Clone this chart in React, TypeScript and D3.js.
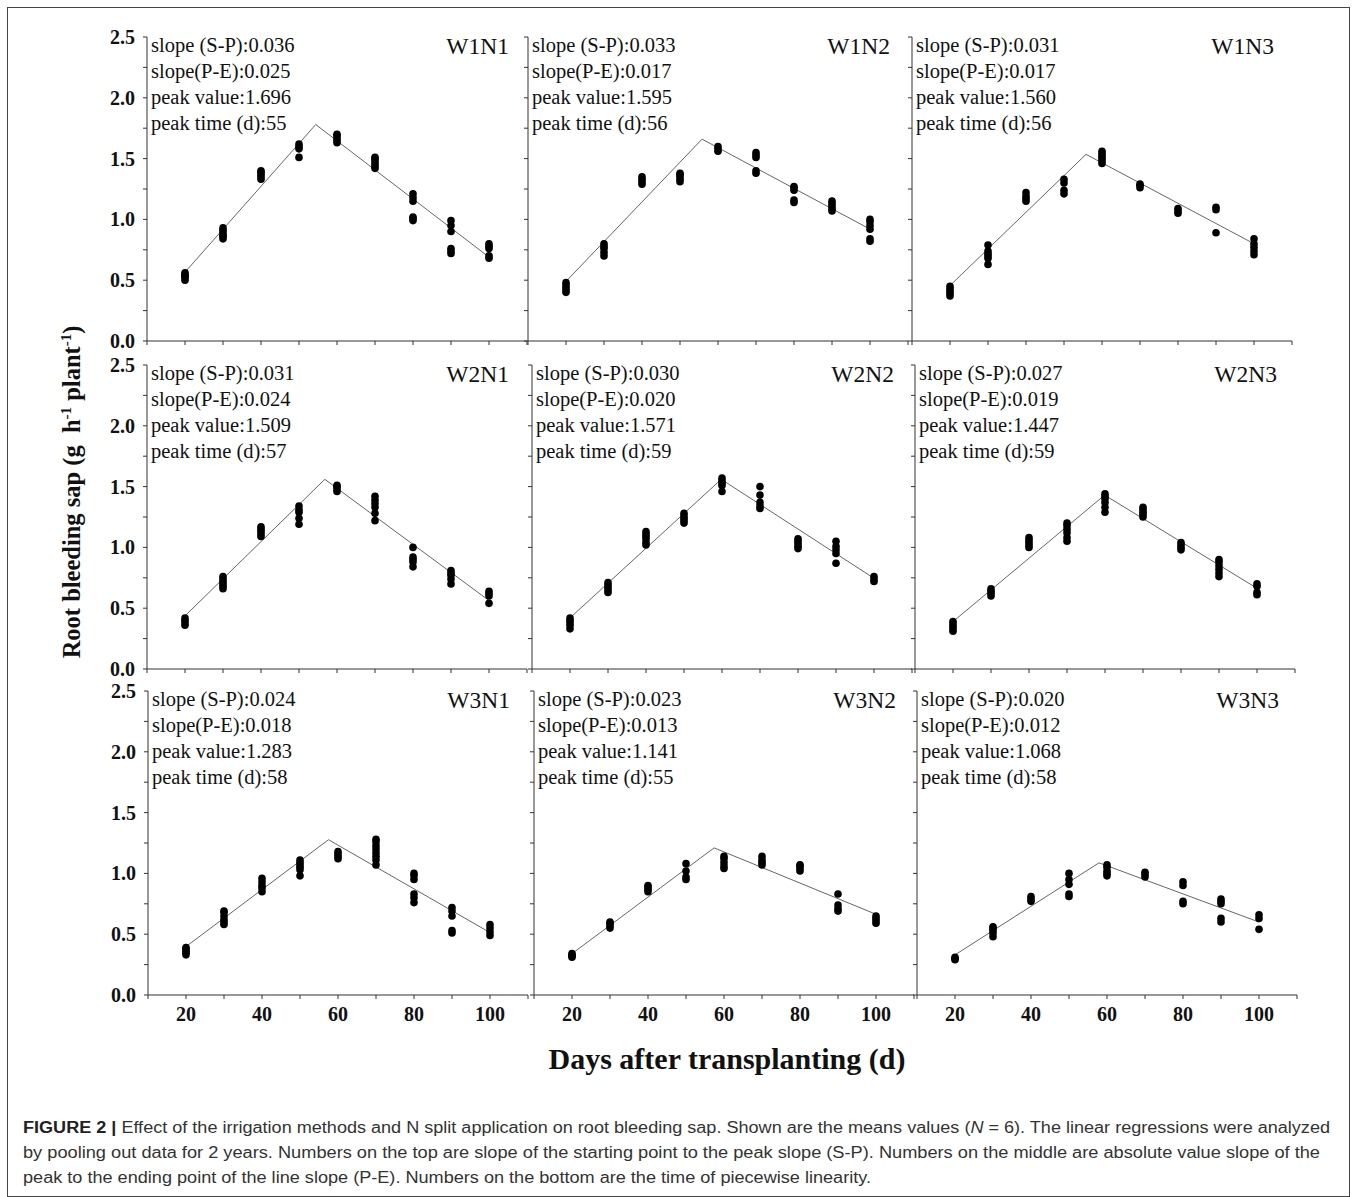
import * as d3 from "d3"
import React from "react"

// sampling days (x values of every dot column)
const days = [20, 30, 40, 50, 60, 70, 80, 90, 100]
const xTicks = [20, 40, 60, 80, 100]
const xMinor = [10, 30, 50, 70, 90, 110]
const yTicks = [0, 0.5, 1.0, 1.5, 2.0, 2.5]
const yMinor = [0.25, 0.75, 1.25, 1.75, 2.25]

const panelNames = ["W1N1", "W1N2", "W1N3", "W2N1", "W2N2", "W2N3", "W3N1", "W3N2", "W3N3"]
const slopeSP = ["0.036", "0.033", "0.031", "0.031", "0.030", "0.027", "0.024", "0.023", "0.020"]
const slopePE = ["0.025", "0.017", "0.017", "0.024", "0.020", "0.019", "0.018", "0.013", "0.012"]
const peakValue = ["1.696", "1.595", "1.560", "1.509", "1.571", "1.447", "1.283", "1.141", "1.068"]
const peakTime = ["55", "56", "56", "57", "59", "59", "58", "55", "58"]

// piecewise fit: value at day 20, break point (day, value), value at day 100
const fitStart = [0.566, 0.49, 0.456, 0.437, 0.42, 0.39, 0.398, 0.34, 0.33]
const fitPeakDay = [54.4, 55.8, 55.8, 56.8, 59.8, 59.9, 57.5, 57.4, 57.9]
const fitPeakVal = [1.78, 1.66, 1.535, 1.56, 1.56, 1.43, 1.277, 1.21, 1.087]
const fitEnd = [0.69, 0.92, 0.8, 0.563, 0.746, 0.664, 0.513, 0.664, 0.6]

// observed values, one list per sampling day
const w1n1 = [
  [0.5, 0.52, 0.53, 0.54, 0.55, 0.56],
  [0.84, 0.86, 0.87, 0.89, 0.91, 0.93],
  [1.33, 1.35, 1.37, 1.39, 1.4],
  [1.51, 1.58, 1.6, 1.62],
  [1.63, 1.65, 1.67, 1.69, 1.7],
  [1.42, 1.44, 1.46, 1.48, 1.5, 1.51],
  [0.99, 1.01, 1.02, 1.15, 1.18, 1.21],
  [0.72, 0.74, 0.76, 0.9, 0.95, 0.99],
  [0.68, 0.7, 0.76, 0.78, 0.8],
]
const w1n2 = [
  [0.4, 0.42, 0.44, 0.46, 0.48],
  [0.7, 0.73, 0.76, 0.78, 0.8],
  [1.29, 1.31, 1.33, 1.35],
  [1.31, 1.33, 1.35, 1.37, 1.38],
  [1.56, 1.58, 1.6],
  [1.38, 1.4, 1.51, 1.53, 1.55],
  [1.14, 1.16, 1.24, 1.26, 1.27],
  [1.07, 1.09, 1.11, 1.13, 1.15],
  [0.82, 0.84, 0.92, 0.95, 0.98, 1.0],
]
const w1n3 = [
  [0.37, 0.39, 0.41, 0.43, 0.45],
  [0.63, 0.68, 0.7, 0.72, 0.74, 0.79],
  [1.15, 1.17, 1.19, 1.22],
  [1.21, 1.24, 1.3, 1.33],
  [1.46, 1.48, 1.5, 1.52, 1.54, 1.56],
  [1.26, 1.28, 1.29],
  [1.05, 1.07, 1.09],
  [0.89, 1.08, 1.1],
  [0.71, 0.74, 0.77, 0.8, 0.84],
]
const w2n1 = [
  [0.36, 0.38, 0.4, 0.42],
  [0.66, 0.68, 0.7, 0.72, 0.74, 0.76],
  [1.09, 1.11, 1.13, 1.15, 1.17],
  [1.19, 1.24, 1.29, 1.31, 1.34],
  [1.46, 1.48, 1.5, 1.51],
  [1.22, 1.28, 1.33, 1.36, 1.39, 1.42],
  [0.84, 0.88, 0.9, 0.92, 1.0],
  [0.7, 0.74, 0.77, 0.79, 0.81],
  [0.54, 0.6, 0.62, 0.64],
]
const w2n2 = [
  [0.33, 0.36, 0.38, 0.4, 0.42],
  [0.63, 0.65, 0.67, 0.69, 0.71],
  [1.02, 1.04, 1.07, 1.09, 1.11, 1.13],
  [1.2, 1.22, 1.24, 1.26, 1.28],
  [1.46, 1.51, 1.53, 1.55, 1.57],
  [1.32, 1.34, 1.37, 1.43, 1.5],
  [0.99, 1.01, 1.03, 1.05, 1.07],
  [0.87, 0.95, 0.98, 1.01, 1.05],
  [0.72, 0.74, 0.76],
]
const w2n3 = [
  [0.31, 0.33, 0.35, 0.37, 0.39],
  [0.6, 0.62, 0.64, 0.66],
  [1.0, 1.02, 1.04, 1.06, 1.08],
  [1.05, 1.08, 1.12, 1.15, 1.18, 1.2],
  [1.29, 1.33, 1.37, 1.4, 1.42, 1.44],
  [1.25, 1.27, 1.29, 1.31, 1.33],
  [0.98, 1.0, 1.02, 1.04],
  [0.76, 0.79, 0.82, 0.85, 0.88, 0.9],
  [0.61, 0.63, 0.68, 0.7],
]
const w3n1 = [
  [0.33, 0.35, 0.36, 0.38, 0.39],
  [0.58, 0.6, 0.62, 0.65, 0.68, 0.69],
  [0.85, 0.88, 0.9, 0.93, 0.96],
  [0.98, 1.03, 1.05, 1.07, 1.09, 1.11],
  [1.12, 1.14, 1.16, 1.18],
  [1.07, 1.11, 1.14, 1.17, 1.2, 1.23, 1.26, 1.28],
  [0.76, 0.8, 0.83, 0.95, 0.98, 1.0],
  [0.51, 0.53, 0.65, 0.69, 0.72],
  [0.49, 0.52, 0.55, 0.58],
]
const w3n2 = [
  [0.31, 0.32, 0.33, 0.34],
  [0.55, 0.57, 0.59, 0.6],
  [0.85, 0.87, 0.89, 0.9],
  [0.95, 0.97, 1.02, 1.08],
  [1.04, 1.06, 1.09, 1.12, 1.14],
  [1.07, 1.09, 1.11, 1.14],
  [1.02, 1.04, 1.06, 1.07],
  [0.69, 0.71, 0.74, 0.83],
  [0.59, 0.61, 0.63, 0.65],
]
const w3n3 = [
  [0.29, 0.3, 0.31],
  [0.48, 0.51, 0.53, 0.55, 0.56],
  [0.77, 0.79, 0.81],
  [0.81, 0.83, 0.91, 0.95, 1.0],
  [0.98, 1.0, 1.02, 1.05, 1.07],
  [0.97, 0.99, 1.01],
  [0.75, 0.77, 0.9, 0.93],
  [0.6, 0.63, 0.75, 0.77, 0.79],
  [0.54, 0.63, 0.66],
]
const observed = [w1n1, w1n2, w1n3, w2n1, w2n2, w2n3, w3n1, w3n2, w3n3]

// layout
const W = 1357
const H = 1197
const rowTop = [37, 365, 691]
const colLeft = [
  [147, 528, 912],
  [147, 532, 915],
  [148, 534, 917],
]
const plotW = 380
const plotH = 304
const serif = "'Liberation Serif', 'Times New Roman', serif"
const sans = "'Liberation Sans', Arial, sans-serif"

const Panel = ({ i }) => {
  const row = Math.floor(i / 3)
  const col = i % 3
  const left = colLeft[row][col]
  const top = rowTop[row]
  const x = d3.scaleLinear().domain([10, 110]).range([left, left + plotW])
  const y = d3.scaleLinear().domain([0, 2.5]).range([top + plotH, top])
  const bottom = top + plotH

  const fit = [
    [20, fitStart[i]],
    [fitPeakDay[i], fitPeakVal[i]],
    [100, fitEnd[i]],
  ]
  const line = d3
    .line()
    .x((d) => x(d[0]))
    .y((d) => y(d[1]))

  const lines = [
    "slope (S-P):" + slopeSP[i],
    "slope(P-E):" + slopePE[i],
    "peak value:" + peakValue[i],
    "peak time (d):" + peakTime[i],
  ]

  return (
    <g>
      {/* axes */}
      <line x1={left} x2={left} y1={top} y2={bottom} stroke="#333" strokeWidth={1} />
      <line x1={left} x2={left + plotW} y1={bottom} y2={bottom} stroke="#333" strokeWidth={1} />
      {yTicks.concat(yMinor).map((t) => (
        <line key={"yt" + t} x1={left - 4} x2={left} y1={y(t)} y2={y(t)} stroke="#333" />
      ))}
      {xTicks.concat(xMinor).map((t) => (
        <line key={"xt" + t} x1={x(t)} x2={x(t)} y1={bottom} y2={bottom + 4} stroke="#333" />
      ))}
      {col === 0 &&
        yTicks.map((t) => (
          <text
            key={"yl" + t}
            x={left - 12}
            y={y(t)}
            dy="0.35em"
            textAnchor="end"
            fontFamily={serif}
            fontWeight="bold"
            fontSize={20}
            fill="#111"
          >
            {t.toFixed(1)}
          </text>
        ))}
      {row === 2 &&
        xTicks.map((t) => (
          <text
            key={"xl" + t}
            x={x(t)}
            y={bottom + 26}
            textAnchor="middle"
            fontFamily={serif}
            fontWeight="bold"
            fontSize={20}
            fill="#111"
          >
            {t}
          </text>
        ))}

      {/* fit line */}
      <path d={line(fit)} fill="none" stroke="#666" strokeWidth={1} />

      {/* dots */}
      {observed[i].map((vals, k) =>
        vals.map((v, j) => <circle key={k + "-" + j} cx={x(days[k])} cy={y(v)} r={3.8} fill="#000" />)
      )}

      {/* annotations */}
      {lines.map((s, k) => (
        <text key={"a" + k} x={left + 4} y={top + 15 + k * 26} fontFamily={serif} fontSize={20.5} fill="#111">
          {s}
        </text>
      ))}
      <text x={left + 362} y={top + 17} textAnchor="end" fontFamily={serif} fontSize={23.5} fill="#111">
        {panelNames[i]}
      </text>
    </g>
  )
}

const App = () => {
  return (
    <svg
      width={W}
      height={H}
      viewBox={`0 0 ${W} ${H}`}
      style={{ position: "absolute", left: 0, top: 0, background: "#fff" }}
    >
      <rect x={0} y={0} width={W} height={H} fill="#fff" />
      <rect x={7.5} y={7.5} width={1342} height={1189} fill="none" stroke="#444" strokeWidth={1} />

      {panelNames.map((_, i) => (
        <Panel key={i} i={i} />
      ))}

      <text
        transform="translate(80,492) rotate(-90)"
        textAnchor="middle"
        fontFamily={serif}
        fontWeight="bold"
        fontSize={24.5}
        fill="#111"
        style={{ whiteSpace: "pre" }}
      >
        {"Root bleeding sap (g\u00a0\u00a0h"}
        <tspan fontSize={15} dy={-9}>-1</tspan>
        <tspan dy={9}>{" plant"}</tspan>
        <tspan fontSize={15} dy={-9}>-1</tspan>
        <tspan dy={9}>)</tspan>
      </text>

      <text x={727} y={1069} textAnchor="middle" fontFamily={serif} fontWeight="bold" fontSize={30} fill="#111">
        Days after transplanting (d)
      </text>

      <g fontFamily={sans} fontSize={16} fill="#333">
        <text x={23} y={1133} textLength={1307} lengthAdjust="spacingAndGlyphs">
          <tspan fontWeight="bold" fill="#222">FIGURE 2 |</tspan> Effect of the irrigation methods and N split
          application on root bleeding sap. Shown are the means values (<tspan fontStyle="italic">N</tspan> = 6). The
          linear regressions were analyzed
        </text>
        <text x={23} y={1158} textLength={1297} lengthAdjust="spacingAndGlyphs">
          by pooling out data for 2 years. Numbers on the top are slope of the starting point to the peak slope (S-P).
          Numbers on the middle are absolute value slope of the
        </text>
        <text x={23} y={1183} textLength={848} lengthAdjust="spacingAndGlyphs">
          peak to the ending point of the line slope (P-E). Numbers on the bottom are the time of piecewise linearity.
        </text>
      </g>
    </svg>
  )
}

export default App
